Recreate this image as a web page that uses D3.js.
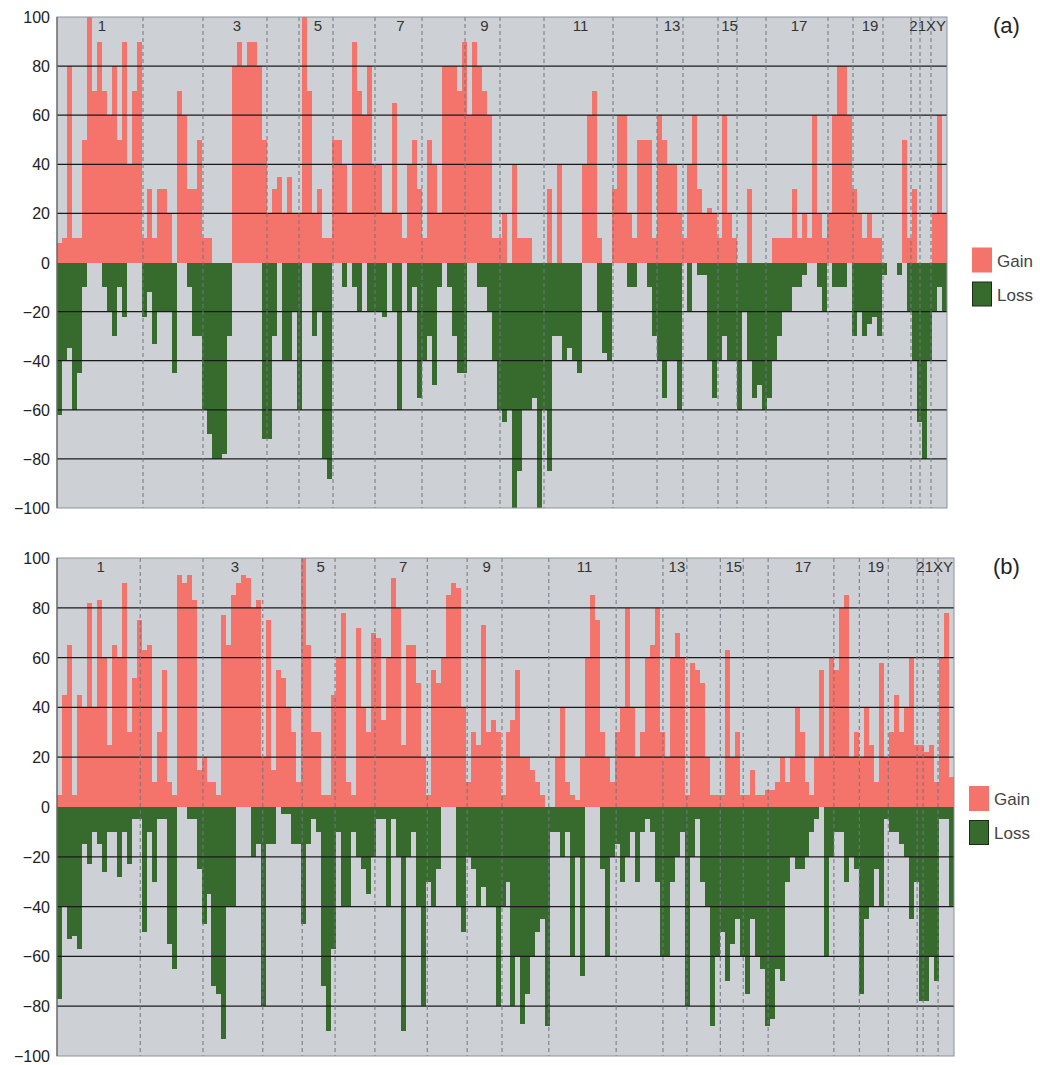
<!DOCTYPE html>
<html>
<head>
<meta charset="utf-8">
<script src="https://cdn.jsdelivr.net/npm/d3@7"></script>
<style>
  body { margin: 0; background: #fff; }
  svg { font-family: "Liberation Sans", Arial, sans-serif; }
</style>
</head>
<body>
<div id="container"></div>
<script>
// percentage of cases with gain / loss, one value per genome bin
let gainA = [
  8,10,80,10,10,50,100,70,90,70,
  60,80,50,90,40,70,90,10,30,10,
  30,30,20,0,70,60,30,30,50,10,
  10,0,0,0,0,80,90,80,90,90,
  80,50,20,30,35,20,35,20,20,100,
  70,20,30,10,10,50,50,40,20,90,
  70,60,80,40,40,20,20,65,20,10,
  40,50,30,10,50,40,20,80,80,80,
  70,90,60,90,80,70,60,10,10,20,
  0,40,10,10,10,0,0,0,30,0,
  40,0,0,0,0,40,60,70,10,0,
  0,30,60,60,20,10,50,50,50,10,
  60,50,40,40,20,10,40,60,30,20,
  22,20,10,60,20,10,0,0,30,0,
  0,0,0,10,10,10,10,30,10,20,
  10,60,20,10,20,60,80,80,60,30,
  20,10,20,10,10,0,0,0,0,50,
  10,30,0,0,0,20,60,20
];
let lossA = [
  -62,-40,-35,-60,-45,-10,0,0,0,-10,
  -20,-30,-10,-22,0,0,0,-22,-12,-33,
  -20,-20,-20,-45,0,0,-10,-30,-30,-60,
  -70,-80,-80,-78,-30,0,0,0,0,0,
  0,-72,-72,-30,0,-40,-40,-20,-60,0,
  0,-30,-20,-80,-88,0,0,-10,0,-10,
  -20,0,-20,-20,-20,-22,0,-20,-60,0,
  -20,-10,-55,-40,-30,-50,-10,0,-10,-30,
  -45,-45,0,0,-10,-10,-20,-40,-60,-65,
  -60,-100,-85,-60,-60,-55,-100,-60,-85,-30,
  -30,-40,-35,-40,-45,0,0,0,-20,-37,
  -40,0,0,0,-10,-10,0,0,-10,-30,
  -40,-55,-40,-40,-60,0,-20,0,-5,-5,
  -40,-55,-40,-30,-40,-40,-60,-20,-40,-55,
  -50,-60,-55,-40,-30,-20,-20,-10,-10,-5,
  0,0,-10,-20,0,-10,-10,-10,0,-30,
  -20,-30,-25,-22,-30,-5,0,0,-5,0,
  -20,-40,-65,-80,-40,-20,-10,-20
];
let gainB = [
  5,45,65,5,45,40,82,40,83,60,
  25,65,60,90,30,52,75,63,65,10,
  30,55,10,5,93,90,93,83,15,20,
  10,10,5,77,65,85,90,93,92,80,
  83,20,75,15,55,52,40,30,10,100,
  65,30,30,5,5,45,60,78,10,5,
  72,40,30,70,68,35,60,92,80,25,
  65,65,50,20,5,55,50,60,85,90,
  88,40,10,30,25,73,30,35,30,5,
  30,35,55,20,20,15,10,5,0,0,
  20,40,10,5,3,20,60,85,75,30,
  20,10,30,40,80,40,20,30,60,65,
  80,30,20,60,70,60,5,58,55,50,
  20,5,5,5,63,20,30,5,5,15,
  5,5,7,7,10,20,10,20,40,30,
  10,5,20,55,20,60,55,80,85,20,
  30,20,40,25,10,58,20,30,45,30,
  40,60,25,25,22,25,10,60,78,12
];
let lossB = [
  -77,-40,-53,-52,-57,-15,-23,-10,-15,-26,
  -10,-10,-28,-10,-23,-5,-5,-50,-10,-30,
  -5,-5,-55,-65,0,0,-5,-5,-25,-47,
  -35,-72,-75,-93,-40,-40,0,0,0,-20,
  -15,-80,-15,-15,0,-3,-3,-15,-15,-47,
  -15,-5,-10,-72,-90,-57,-10,-40,-40,-10,
  -20,-25,-35,-20,-5,-5,-40,-5,-20,-90,
  -20,-10,-40,-80,-30,-40,-25,0,0,0,
  -40,-50,-20,-25,-40,-32,-40,-40,-80,-40,
  -30,-80,-60,-87,-75,-60,-50,-45,-88,-10,
  -10,-20,-10,-60,-20,-68,0,0,0,-25,
  -60,-20,-15,-30,-20,-10,-30,-10,-5,-10,
  -30,-60,-60,-30,-20,-10,-80,-20,-5,-30,
  -40,-88,-60,-50,-70,-55,-45,-60,-75,-45,
  -60,-65,-88,-85,-65,-70,-30,-20,-25,-25,
  -20,-10,-5,0,-60,-20,-10,-10,-30,-20,
  -25,-75,-45,-40,-25,-40,-5,-10,-10,-15,
  -20,-45,-30,-78,-78,-60,-70,-5,-5,-40
];

// chromosome boundaries, in bin units
let boundsA = [17.2,29.2,42,48.4,55.2,63.6,73,81.6,88.6,97.4,111.2,120,125.2,132.2,136,141.8,154.2,159.2,165.2,170.8,172.6,174.8];
let boundsB = [16.7,29.3,41.3,49.2,55.8,63.8,74.3,82.3,89.3,98.7,112.2,121.6,126.4,133.1,137.7,142.7,155.9,161.0,166.8,172.6,173.8,176.8];
let chromLabels = ["1","3","5","7","9","11","13","15","17","19"];
let yTicks = [100,80,60,40,20,0,-20,-40,-60,-80,-100];
let gridVals = [80,60,40,20,-20,-40,-60,-80];

let gainColor = "#f4736a";
let lossColor = "#376b2e";

let svg = d3.select("#container").append("svg")
    .attr("width", 1040)
    .attr("height", 1065);

function drawPanel(p) {
    let x = d3.scaleLinear().domain([0, p.gain.length]).range([p.left, p.right]);
    let y = d3.scaleLinear().domain([-100, 100]).range([p.bottom, p.top]);
    let g = svg.append("g");

    g.append("rect")
        .attr("x", p.left).attr("y", p.top)
        .attr("width", p.right - p.left).attr("height", p.bottom - p.top)
        .style("fill", "#cdd1d5");

    g.selectAll("rect.gain")
        .data(p.gain)
        .enter().append("rect")
        .attr("class", "gain")
        .attr("x", (d, i) => x(i))
        .attr("width", (d, i) => x(i + 1) - x(i))
        .attr("y", d => y(d))
        .attr("height", d => y(0) - y(d))
        .style("shape-rendering", "crispEdges")
        .style("fill", gainColor);

    g.selectAll("rect.loss")
        .data(p.loss)
        .enter().append("rect")
        .attr("class", "loss")
        .attr("x", (d, i) => x(i))
        .attr("width", (d, i) => x(i + 1) - x(i))
        .attr("y", y(0))
        .attr("height", d => y(d) - y(0))
        .style("shape-rendering", "crispEdges")
        .style("fill", lossColor);

    // horizontal grid lines on top of the bars
    g.selectAll("line.grid")
        .data(gridVals)
        .enter().append("line")
        .attr("x1", p.left).attr("x2", p.right)
        .attr("y1", d => y(d)).attr("y2", d => y(d))
        .style("stroke", "#1a1a1a")
        .style("stroke-width", 1.3);

    // chromosome dividers
    g.selectAll("line.chr")
        .data(p.bounds)
        .enter().append("line")
        .attr("x1", d => x(d)).attr("x2", d => x(d))
        .attr("y1", p.top).attr("y2", p.bottom)
        .style("stroke", "#6f7680")
        .style("stroke-width", 1)
        .style("stroke-dasharray", "4,3");

    let edges = [0].concat(p.bounds);
    chromLabels.forEach(function(lab, k) {
        let i = k * 2;
        let cx = (x(edges[i]) + x(edges[i + 1])) / 2;
        g.append("text")
            .attr("x", cx + 2).attr("y", p.top + 14)
            .attr("text-anchor", "middle")
            .style("font-size", "15px")
            .style("fill", "#333")
            .text(lab);
    });
    g.append("text")
        .attr("x", p.right - 1).attr("y", p.top + 14)
        .attr("text-anchor", "end")
        .style("font-size", "15px")
        .style("fill", "#333")
        .text("21XY");

    g.append("rect")
        .attr("x", p.left).attr("y", p.top)
        .attr("width", p.right - p.left).attr("height", p.bottom - p.top)
        .style("fill", "none")
        .style("stroke", "#8c9199");
    g.append("line")
        .attr("x1", p.left).attr("x2", p.left)
        .attr("y1", p.top).attr("y2", p.bottom)
        .style("stroke", "#555");

    g.selectAll("text.tick")
        .data(yTicks)
        .enter().append("text")
        .attr("x", 50)
        .attr("y", d => y(d) + 6)
        .attr("text-anchor", "end")
        .style("font-size", "16px")
        .style("fill", "#222")
        .text(d => d < 0 ? "\u2212" + Math.abs(d) : d);

    // legend
    g.append("rect")
        .attr("x", p.legX).attr("y", y(0) + p.legDy)
        .attr("width", 20).attr("height", 25)
        .style("fill", gainColor);
    g.append("rect")
        .attr("x", p.legX + 0.5).attr("y", y(0) + p.legDy + 34.5)
        .attr("width", 19).attr("height", 24)
        .style("fill", lossColor)
        .style("stroke", "#1c2b18");
    g.append("text")
        .attr("x", p.legX + 25).attr("y", y(0) + p.legDy + 19)
        .style("font-size", "17px").style("fill", "#444")
        .text("Gain");
    g.append("text")
        .attr("x", p.legX + 25).attr("y", y(0) + p.legDy + 53)
        .style("font-size", "17px").style("fill", "#444")
        .text("Loss");

    g.append("text")
        .attr("x", 993).attr("y", p.top + 16)
        .style("font-size", "22px").style("fill", "#222")
        .text(p.name);
}

drawPanel({name: "(a)", gain: gainA, loss: lossA, bounds: boundsA,
    left: 57, right: 947, top: 17, bottom: 508, legX: 972, legDy: -15});
drawPanel({name: "(b)", gain: gainB, loss: lossB, bounds: boundsB,
    left: 57, right: 954, top: 558, bottom: 1056, legX: 969, legDy: -21});
</script>
</body>
</html>
